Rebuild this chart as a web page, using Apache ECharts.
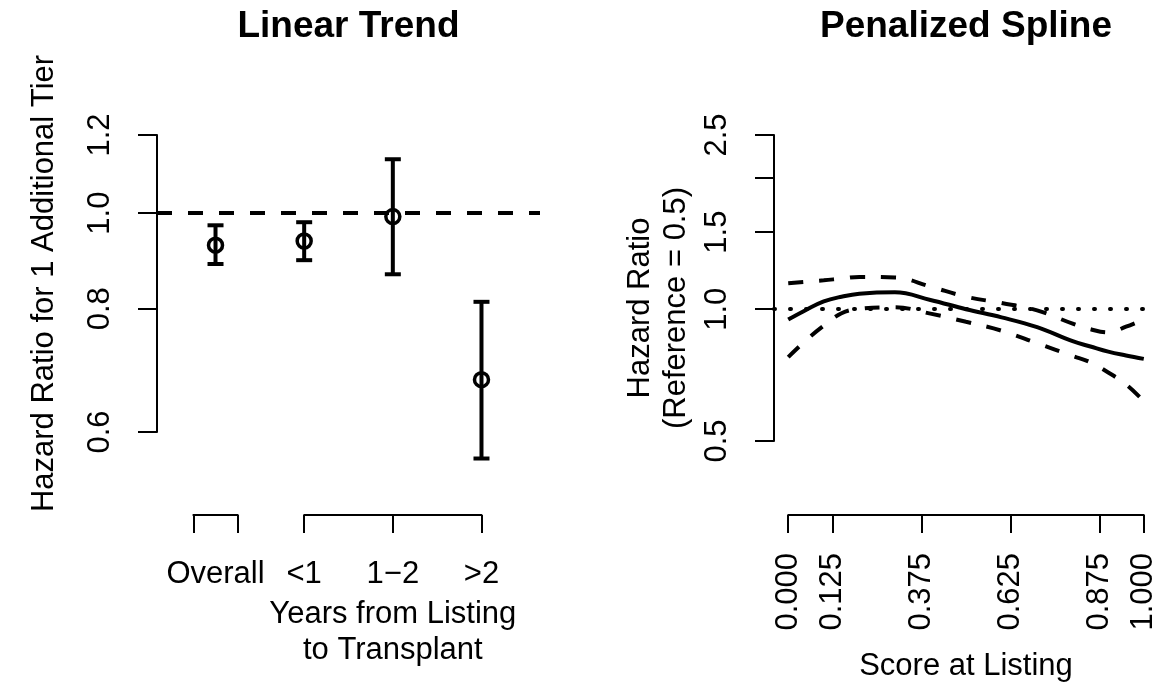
<!DOCTYPE html>
<html>
<head>
<meta charset="utf-8">
<script src="https://cdn.jsdelivr.net/npm/echarts@6/dist/echarts.min.js"></script>
<style>
  html, body { margin: 0; padding: 0; background: #fff; }
  #chart { width: 1169px; height: 688px; }
</style>
</head>
<body>
<div id="chart"></div>
<script>
// ---- left panel: linear trend, HR per additional tier ----
var groupLabels = ['Overall', '<1', '1\u22122', '>2'];
var groupPos = [0, 1, 2, 3];
var hrEst = [0.928, 0.937, 0.992, 0.678];
var hrLower = [0.888, 0.896, 0.867, 0.564];
var hrUpper = [0.972, 0.979, 1.134, 0.813];
var bracketSpans = [[-0.25, 0.25], [1, 3]];
var leftTicks = [0.6, 0.8, 1.0, 1.2];
var leftRef = 1;

// ---- right panel: penalized spline ----
var scoreX = [0, 0.05, 0.1, 0.15, 0.2, 0.3, 0.4, 0.5, 0.6, 0.7, 0.8, 0.85, 0.9, 0.95, 1.0];
var splineFit = [0.947, 0.996, 1.042, 1.068, 1.085, 1.093, 1.050, 1.000, 0.958, 0.910, 0.845, 0.822, 0.800, 0.784, 0.770];
var splineUpper = [1.146, 1.155, 1.164, 1.175, 1.185, 1.182, 1.126, 1.068, 1.033, 0.994, 0.927, 0.900, 0.885, 0.912, 0.948];
var splineLower = [0.777, 0.849, 0.917, 0.979, 1.002, 1.010, 0.977, 0.936, 0.893, 0.836, 0.782, 0.756, 0.717, 0.673, 0.617];
var rightYTicks = [0.5, 1.0, 1.5, 2.0, 2.5];
var rightYLabels = [0.5, 1.0, 1.5, 2.5];
var rightXTicks = [0, 0.125, 0.375, 0.625, 0.875, 1];
var rightRef = 1;

var FONT = 'Liberation Sans, Arial, Helvetica, sans-serif';
var chart = echarts.init(document.getElementById('chart'));

var leftGrid = { left: 157, top: 135, width: 383, height: 297 };
var rightGrid = { left: 774, top: 135, width: 384, height: 306 };
var leftX = { min: -0.66, max: 3.66 };
var rightX = { min: -0.04, max: 1.04 };

// grid that holds only an axis line covering [a, b] of a panel's x range
function spanGrid(g, ax, a, b) {
  var k = g.width / (ax.max - ax.min);
  return { left: g.left + (a - ax.min) * k, width: (b - a) * k, top: 505, height: 10 };
}

var black = { color: '#000', width: 2 };
var lblStyle = { fontSize: 31, color: '#000', fontFamily: FONT };

function hiddenY(i) {
  return { type: 'value', gridIndex: i, show: false, min: 0, max: 1 };
}

var option = {
  animation: false,
  backgroundColor: '#fff',
  textStyle: { fontFamily: FONT, color: '#000' },
  title: [
    { text: 'Linear Trend', left: leftGrid.left + leftGrid.width / 2, top: 8, textAlign: 'center', padding: 0,
      textStyle: { fontSize: 37, fontWeight: 'bold', color: '#000', fontFamily: FONT } },
    { text: 'Penalized Spline', left: rightGrid.left + rightGrid.width / 2, top: 8, textAlign: 'center', padding: 0,
      textStyle: { fontSize: 37, fontWeight: 'bold', color: '#000', fontFamily: FONT } }
  ],
  grid: [
    leftGrid,
    rightGrid,
    spanGrid(leftGrid, leftX, bracketSpans[0][0], bracketSpans[0][1]),
    spanGrid(leftGrid, leftX, bracketSpans[1][0], bracketSpans[1][1]),
    spanGrid(rightGrid, rightX, 0, 1)
  ],
  xAxis: [
    { type: 'value', gridIndex: 0, show: false, min: leftX.min, max: leftX.max },
    { type: 'value', gridIndex: 1, show: false, min: rightX.min, max: rightX.max },
    {
      type: 'value', gridIndex: 2, position: 'bottom', min: bracketSpans[0][0], max: bracketSpans[0][1],
      axisLine: { onZero: false, lineStyle: black },
      axisTick: { length: 18, lineStyle: black, customValues: bracketSpans[0] },
      axisLabel: Object.assign({ margin: 44, customValues: [groupPos[0]],
        formatter: function () { return groupLabels[0]; } }, lblStyle),
      splitLine: { show: false }
    },
    {
      type: 'value', gridIndex: 3, position: 'bottom', min: bracketSpans[1][0], max: bracketSpans[1][1],
      axisLine: { onZero: false, lineStyle: black },
      axisTick: { length: 18, lineStyle: black, customValues: groupPos.slice(1) },
      axisLabel: Object.assign({ margin: 44, customValues: groupPos.slice(1),
        formatter: function (v) { return groupLabels[groupPos.indexOf(Math.round(v))]; } }, lblStyle),
      splitLine: { show: false },
      name: 'Years from Listing\nto Transplant', nameLocation: 'middle', nameGap: 81,
      nameTextStyle: Object.assign({ lineHeight: 36 }, lblStyle)
    },
    {
      type: 'value', gridIndex: 4, position: 'bottom', min: 0, max: 1,
      axisLine: { onZero: false, lineStyle: black },
      axisTick: { length: 18, lineStyle: black, customValues: rightXTicks },
      axisLabel: Object.assign({ margin: 38, rotate: 90, customValues: rightXTicks,
        formatter: function (v) { return v.toFixed(3); } }, lblStyle),
      splitLine: { show: false },
      name: 'Score at Listing', nameLocation: 'middle', nameGap: 136,
      nameTextStyle: lblStyle
    }
  ],
  yAxis: [
    {
      type: 'log', logBase: 10, gridIndex: 0, min: leftTicks[0], max: leftTicks[leftTicks.length - 1],
      axisLine: { show: true, onZero: false, lineStyle: black },
      axisTick: { show: true, length: 19, lineStyle: black, customValues: leftTicks },
      axisLabel: Object.assign({ margin: 41, rotate: 90, customValues: leftTicks,
        formatter: function (v) { return v.toFixed(1); } }, lblStyle),
      splitLine: { show: false },
      name: 'Hazard Ratio for 1 Additional Tier', nameLocation: 'middle', nameRotate: 90, nameGap: 97,
      nameTextStyle: lblStyle
    },
    {
      type: 'log', logBase: 10, gridIndex: 1, min: rightYTicks[0], max: rightYTicks[rightYTicks.length - 1],
      axisLine: { show: true, onZero: false, lineStyle: black },
      axisTick: { show: true, length: 19, lineStyle: black, customValues: rightYTicks },
      axisLabel: Object.assign({ margin: 41, rotate: 90, customValues: rightYLabels,
        formatter: function (v) { return v.toFixed(1); } }, lblStyle),
      splitLine: { show: false },
      name: 'Hazard Ratio\n(Reference = 0.5)', nameLocation: 'middle', nameRotate: 90, nameGap: 80,
      nameTextStyle: Object.assign({ lineHeight: 36, padding: [0, 40, 0, 0] }, lblStyle)
    },
    hiddenY(2), hiddenY(3), hiddenY(4)
  ],
  series: [
    {
      type: 'custom', xAxisIndex: 0, yAxisIndex: 0, clip: false,
      encode: { x: 0, y: [1, 2, 3] },
      data: groupPos.map(function (x, i) { return [x, hrEst[i], hrLower[i], hrUpper[i]]; }),
      renderItem: function (params, api) {
        var x = api.value(0);
        var c = api.coord([x, api.value(1)]);
        var lo = api.coord([x, api.value(2)]);
        var hi = api.coord([x, api.value(3)]);
        var cap = 8;
        var st = { stroke: '#000', lineWidth: 4, fill: null };
        return {
          type: 'group',
          children: [
            { type: 'line', shape: { x1: lo[0], y1: lo[1], x2: hi[0], y2: hi[1] }, style: st },
            { type: 'line', shape: { x1: lo[0] - cap, y1: lo[1], x2: lo[0] + cap, y2: lo[1] }, style: st },
            { type: 'line', shape: { x1: hi[0] - cap, y1: hi[1], x2: hi[0] + cap, y2: hi[1] }, style: st },
            { type: 'circle', shape: { cx: c[0], cy: c[1], r: 7 }, style: { stroke: '#000', lineWidth: 3.5, fill: 'none' } }
          ]
        };
      }
    },
    {
      type: 'line', xAxisIndex: 0, yAxisIndex: 0, data: [],
      markLine: {
        silent: true, symbol: ['none', 'none'], label: { show: false },
        lineStyle: { color: '#000', width: 4, type: [15, 16], cap: 'butt' },
        data: [{ yAxis: leftRef }]
      }
    },
    {
      name: 'fit', type: 'line', xAxisIndex: 1, yAxisIndex: 1, smooth: 0.4, showSymbol: false, clip: false,
      lineStyle: { color: '#000', width: 4 },
      data: scoreX.map(function (x, i) { return [x, splineFit[i]]; })
    },
    {
      name: 'upper', type: 'line', xAxisIndex: 1, yAxisIndex: 1, smooth: 0.4, showSymbol: false, clip: false,
      lineStyle: { color: '#000', width: 4, type: [15, 16], cap: 'butt' },
      data: scoreX.map(function (x, i) { return [x, splineUpper[i]]; })
    },
    {
      name: 'lower', type: 'line', xAxisIndex: 1, yAxisIndex: 1, smooth: 0.4, showSymbol: false, clip: false,
      lineStyle: { color: '#000', width: 4, type: [15, 16], cap: 'butt' },
      data: scoreX.map(function (x, i) { return [x, splineLower[i]]; })
    },
    {
      type: 'line', xAxisIndex: 1, yAxisIndex: 1, data: [],
      markLine: {
        silent: true, symbol: ['none', 'none'], label: { show: false },
        lineStyle: { color: '#000', width: 4, type: [1, 15], cap: 'round' },
        data: [{ yAxis: rightRef }]
      }
    }
  ]
};

chart.setOption(option);
</script>
</body>
</html>
